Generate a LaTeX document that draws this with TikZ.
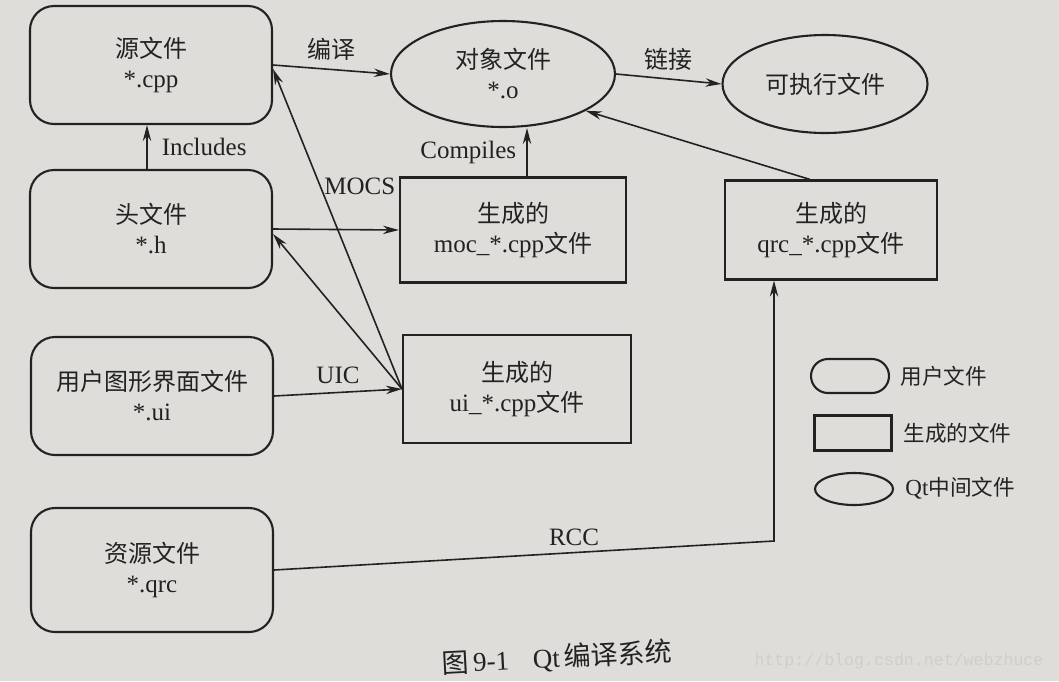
\documentclass[tikz,border=0pt]{standalone}
\usepackage{fontspec}
\setmainfont{Liberation Serif}
\newfontfamily\cjk{Noto Sans CJK SC}
\newfontfamily\wmfont{Liberation Mono}
\usetikzlibrary{shapes.geometric,arrows.meta,calc}
\definecolor{paper}{RGB}{222,221,217}
\definecolor{ink}{RGB}{34,34,34}
\definecolor{wm}{RGB}{208,206,202}
\newcommand{\zh}[1]{{\cjk\fontsize{12}{15}\selectfont #1}}
\newcommand{\zhs}[1]{{\cjk\fontsize{10.8}{13}\selectfont #1}}
\begin{document}
\begin{tikzpicture}[x=0.5pt,y=-0.5pt,
  every node/.style={font=\fontsize{12.5}{15}\selectfont, text=ink},
  userfile/.style={draw=ink, line width=1.05pt, rounded corners=12pt,
     minimum width=121pt, minimum height=59pt, align=center, inner sep=0pt},
  genfile/.style={draw=ink, line width=1.05pt, align=center, inner sep=0pt},
  qtfile/.style={draw=ink, line width=1.05pt, ellipse, align=center, inner sep=0pt},
  conn/.style={draw=ink, line width=0.8pt, -{Stealth[length=8pt,width=4.2pt]}},
  lbl/.style={inner sep=1pt}]
\fill[paper] (0,0) rectangle (1059,681);
\useasboundingbox (0,0) rectangle (1059,681);

% user files
\node[userfile] (src) at (151,65) {\zh{源文件}\\*.cpp};
\node[userfile] (hdr) at (151,229) {\zh{头文件}\\*.h};
\node[userfile] (ui) at (152,396) {\zh{用户图形界面文件}\\*.ui};
\node[userfile, minimum height=62pt] (qrc) at (152,570) {\zh{资源文件}\\*.qrc};

% qt intermediate files
\node[qtfile, minimum width=112pt, minimum height=53pt] (obj) at (503,74) {\zh{对象文件}\\*.o};
\node[qtfile, minimum width=102.5pt, minimum height=49pt] (exe) at (825,84) {\zh{可执行文件}};

% generated files
\node[genfile, minimum width=113pt, minimum height=52.5pt] (moc) at (513,230) {\zh{生成的}\\moc\_*.cpp\zh{文件}};
\node[genfile, minimum width=114pt, minimum height=54pt] (uicpp) at (517,389) {\zh{生成的}\\ui\_*.cpp\zh{文件}};
\node[genfile, minimum width=106pt, minimum height=49.5pt] (qrccpp) at (831,230) {\zh{生成的}\\qrc\_*.cpp\zh{文件}};

% connectors
\draw[conn] (src.east) -- node[lbl, above=3pt] {\zh{编译}} (obj.west);
\draw[conn] (obj.east) -- node[lbl, above=3pt] {\zh{链接}} (exe.west);
\draw[conn] ([xshift=-2pt]hdr.north) -- node[lbl, right=6pt] {Includes} ([xshift=-2pt]src.south);
\draw[conn] (hdr.east) -- (moc.west);
\draw[conn] ([xshift=7pt]moc.north) -- node[lbl, left=4pt] {Compiles} ([xshift=7pt]moc.north |- obj.south);
\draw[conn] ([xshift=-10.5pt]qrccpp.north) -- (obj.-24);
\draw[conn] (ui.east) -- node[lbl, above=3pt] {UIC} (uicpp.west);
\draw[conn] (uicpp.west) -- ([yshift=-2pt]src.east);
\draw[conn] (uicpp.west) -- ([yshift=-2.5pt]hdr.east);
\node[lbl, anchor=west] (mocs) at (322,186) {MOCS};
\coordinate (rcccorner) at (774,541);
\coordinate (qrcin) at (qrccpp.south -| rcccorner);
\draw[conn] (qrc.east) -- node[lbl, above=2pt, pos=0.6] {RCC} (rcccorner) -- (qrcin);

% legend
\node[draw=ink, line width=1.05pt, rounded corners=8.5pt, minimum width=39pt, minimum height=17pt, inner sep=0pt] (lguser) at (850,376) {};
\node[anchor=west, inner sep=0pt] (lgusert) at (900,376) {\zhs{用户文件}};
\node[genfile, minimum width=38.5pt, minimum height=17.5pt] (lggen) at (853,433) {};
\node[anchor=west, inner sep=0pt] (lggent) at (903,433) {\zhs{生成的文件}};
\node[qtfile, minimum width=39pt, minimum height=16pt] (lgqt) at (854,489) {};
\node[anchor=west, inner sep=0pt, font=\fontsize{11.5}{14}\selectfont] (lgqtt) at (905,488) {Qt\zhs{中间文件}};

% caption
\node[rotate=3, inner sep=0pt, font=\fontsize{13.5}{16}\selectfont] (cap) at (557,658) {{\cjk 图}\,9-1\hspace{12pt}Qt\,{\cjk 编译系统}};
\node[text=wm, font=\wmfont\fontsize{8.3}{10}\selectfont, inner sep=0pt] (wmark) at (899,661) {http://blog.csdn.net/webzhuce};
\end{tikzpicture}
\end{document}
